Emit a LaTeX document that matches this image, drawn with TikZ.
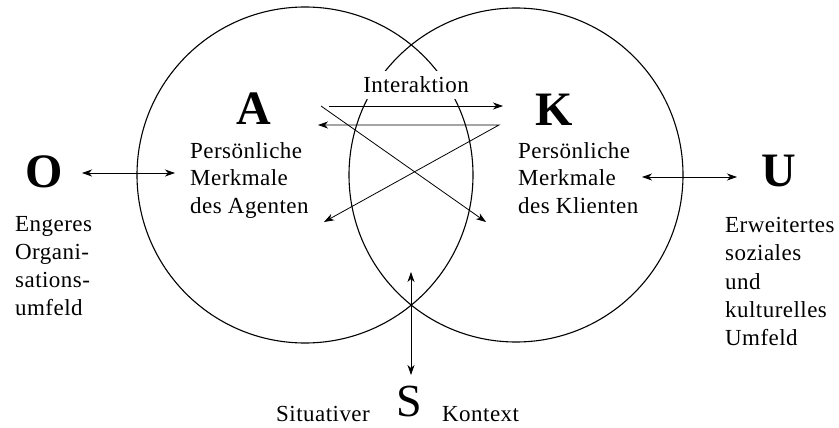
\documentclass[tikz,border=0pt]{standalone}
\usepackage{fontspec}
\setmainfont{Liberation Serif}[LetterSpace=2]
\usetikzlibrary{positioning,arrows.meta}

\begin{document}
\begin{tikzpicture}[x=1pt, y=-1pt, >={Stealth[length=10pt,width=7pt,inset=3pt]},
  ring/.style={line width=1.1pt},
  link/.style={line width=0.8pt},
  bigletter/.style={font=\fontsize{48}{48}\selectfont\bfseries, inner sep=0pt},
  txtblock/.style={font=\fontsize{23}{27.5}\selectfont, align=left, anchor=north west, inner sep=0pt}]
  \useasboundingbox (0,0) rectangle (839,428);
  % the two circles
  \draw[ring] (305,175) circle[radius=168];
  \draw[ring] (516,175) circle[radius=167];
  \node[font=\fontsize{23}{27.5}\selectfont, fill=white, inner xsep=2pt, inner ysep=6pt, anchor=base] (inter) at (416,93) {Interaktion};

  % letters
  \node[bigletter] (A) at (254,109) {A};
  \node[bigletter] (K) at (554,110) {K};
  \node[bigletter] (O) at (44,172) {O};
  \node[bigletter] (U) at (779,171) {U};
  \node[bigletter, font=\fontsize{46}{46}\selectfont] (S) at (409,401) {S};

  % texts
  \node[txtblock] (agent) at (190,142) {Persönliche\\Merkmale\\des Agenten};
  \node[txtblock] (klient) at (518,142) {Persönliche\\Merkmale\\des Klienten};
  \node[txtblock, font=\fontsize{23}{28}\selectfont] (orga) at (15,216) {Engeres\\Organi-\\sations-\\umfeld};
  \node[txtblock, font=\fontsize{23}{28.3}\selectfont] (umfeld) at (725,217) {Erweitertes\\soziales\\und\\kulturelles\\Umfeld};
  \node[font=\fontsize{23}{27.5}\selectfont, inner sep=0pt, anchor=base east] (sit) at (370,421) {Situativer};
  \node[font=\fontsize{23}{27.5}\selectfont, inner sep=0pt, anchor=base west] (kon) at (442,421) {Kontext};

  % arrow ends
  \coordinate (o1) at (82,173);
  \coordinate (o2) at (175,173);
  \coordinate (u1) at (642,177);
  \coordinate (u2) at (737,177);
  \coordinate (s1) at (411,272);
  \coordinate (s2) at (411,375);
  \coordinate (ak1) at (329,106);
  \coordinate (ak2) at (503,106);
  \coordinate (ak3) at (321,106);
  \coordinate (ak4) at (486,222);
  \coordinate (ka1) at (318,125);
  \coordinate (ka2) at (499,125);
  \coordinate (ka3) at (324,222);

  % arrows
  \draw[link, <->] (o1) -- (o2);
  \draw[link, <->] (u1) -- (u2);
  \draw[link, <->] (s1) -- (s2);
  \draw[link, ->] (ak1) -- (ak2);
  \draw[link, ->] (ak3) -- (ak4);
  \draw[link, <->] (ka1) -- (ka2) -- (ka3);
\end{tikzpicture}
\end{document}
